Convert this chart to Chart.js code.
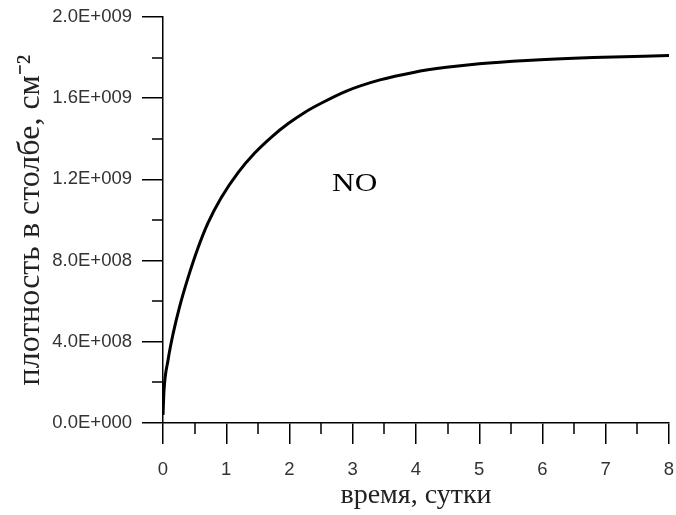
<!DOCTYPE html>
<html>
<head>
<meta charset="utf-8">
<script src="https://cdn.jsdelivr.net/npm/chart.js@4"></script>
<style>
  html, body { margin: 0; padding: 0; background: #fff; }
  #wrap { width: 676px; height: 515px; }
</style>
</head>
<body>
<div id="wrap"><canvas id="c" width="676" height="515"></canvas></div>
<script>
// Data
const days = [0, 0.016, 0.08, 0.16, 0.26, 0.40, 0.55, 0.71, 0.92, 1.19, 1.45, 1.72, 1.98, 2.24, 2.5, 2.9, 3.43, 3.96, 4.48, 5.0, 5.75, 6.8, 8.0];
const columnNO = [0.04e9, 0.16e9, 0.31e9, 0.44e9, 0.57e9, 0.72e9, 0.86e9, 0.985e9, 1.11e9, 1.235e9, 1.33e9, 1.41e9, 1.475e9, 1.53e9, 1.575e9, 1.635e9, 1.69e9, 1.727e9, 1.752e9, 1.77e9, 1.786e9, 1.80e9, 1.81e9];
const xMajorTicks = [0, 1, 2, 3, 4, 5, 6, 7, 8];
const xMinorTicks = [0.5, 1.5, 2.5, 3.5, 4.5, 5.5, 6.5, 7.5];
const yMajorTicks = [0, 0.4e9, 0.8e9, 1.2e9, 1.6e9, 2.0e9];
const yMinorTicks = [0.2e9, 0.6e9, 1.0e9, 1.4e9, 1.8e9];
const xTitle = 'время, сутки';
const yTitle = 'плотность в столбе, см⁻²';
const seriesLabel = 'NO';

function fmtExp(v) {
  if (v === 0) return '0.0E+000';
  const s = v.toExponential(1); // e.g. 4.0e+8
  const [m, e] = s.split('e');
  const sign = e[0] === '-' ? '-' : '+';
  const num = Math.abs(parseInt(e, 10));
  return m + 'E' + sign + String(num).padStart(3, '0');
}

const minorTicksPlugin = {
  id: 'minorTicks',
  afterDraw(chart) {
    const ctx = chart.ctx;
    const xs = chart.scales.x, ys = chart.scales.y;
    const area = chart.chartArea;
    ctx.save();
    ctx.strokeStyle = '#000';
    ctx.lineWidth = 1.5;
    ctx.beginPath();
    xMinorTicks.forEach(v => {
      const px = Math.round(xs.getPixelForValue(v));
      ctx.moveTo(px, area.bottom);
      ctx.lineTo(px, area.bottom + 11);
    });
    yMinorTicks.forEach(v => {
      const py = Math.round(ys.getPixelForValue(v));
      ctx.moveTo(area.left, py);
      ctx.lineTo(area.left - 11, py);
    });
    ctx.stroke();
    // series label inside the plot
    const lx = xs.getPixelForValue(3.03);
    const ly = ys.getPixelForValue(1.175e9);
    ctx.fillStyle = '#000';
    ctx.font = '25px "Liberation Serif", "Times New Roman", serif';
    ctx.textAlign = 'center';
    ctx.textBaseline = 'middle';
    ctx.translate(lx, ly);
    ctx.scale(1.25, 1);
    ctx.fillText(seriesLabel, 0, 0);
    ctx.restore();
  }
};

new Chart(document.getElementById('c'), {
  type: 'line',
  data: {
    datasets: [{
      label: seriesLabel,
      data: days.map((d, i) => ({ x: d, y: columnNO[i] })),
      borderColor: '#000',
      borderWidth: 3,
      pointRadius: 0,
      fill: false,
      cubicInterpolationMode: 'monotone'
    }]
  },
  options: {
    responsive: false,
    animation: false,
    devicePixelRatio: 1,
    layout: { padding: { top: 17, right: 7, left: 0, bottom: 0 } },
    plugins: { legend: { display: false }, tooltip: { enabled: false } },
    scales: {
      x: {
        type: 'linear',
        min: 0, max: 8,
        afterBuildTicks: s => { s.ticks = xMajorTicks.map(v => ({ value: v })); },
        afterFit: s => { s.height = 92; s.paddingLeft = 0; s.paddingRight = 0; },
        border: { display: true, color: '#000', width: 1.5 },
        grid: { drawOnChartArea: false, drawTicks: true, tickLength: 21, tickColor: '#000', lineWidth: 1.5 },
        ticks: {
          color: '#333', padding: 15, maxRotation: 0,
          font: { family: '"Liberation Sans", Arial, sans-serif', size: 18.5 },
          callback: v => String(v)
        },
        title: {
          display: true, text: xTitle, color: '#222',
          font: { family: '"Liberation Serif", "Times New Roman", serif', size: 28 },
          padding: { top: 0, bottom: 3 }
        }
      },
      y: {
        type: 'linear',
        min: 0, max: 2.0e9,
        afterBuildTicks: s => { s.ticks = yMajorTicks.map(v => ({ value: v })); },
        afterFit: s => { s.width = 163; s.paddingTop = 0; s.paddingBottom = 0; },
        border: { display: true, color: '#000', width: 1.5 },
        grid: { drawOnChartArea: false, drawTicks: true, tickLength: 21, tickColor: '#000', lineWidth: 1.5 },
        ticks: {
          color: '#333', padding: 10,
          font: { family: '"Liberation Sans", Arial, sans-serif', size: 18.5 },
          callback: v => fmtExp(v)
        },
        title: {
          display: true, text: yTitle, color: '#222',
          font: { family: '"Liberation Serif", "Times New Roman", serif', size: 32 },
          padding: { top: 11, bottom: 0 }
        }
      }
    }
  },
  plugins: [minorTicksPlugin]
});
</script>
</body>
</html>
